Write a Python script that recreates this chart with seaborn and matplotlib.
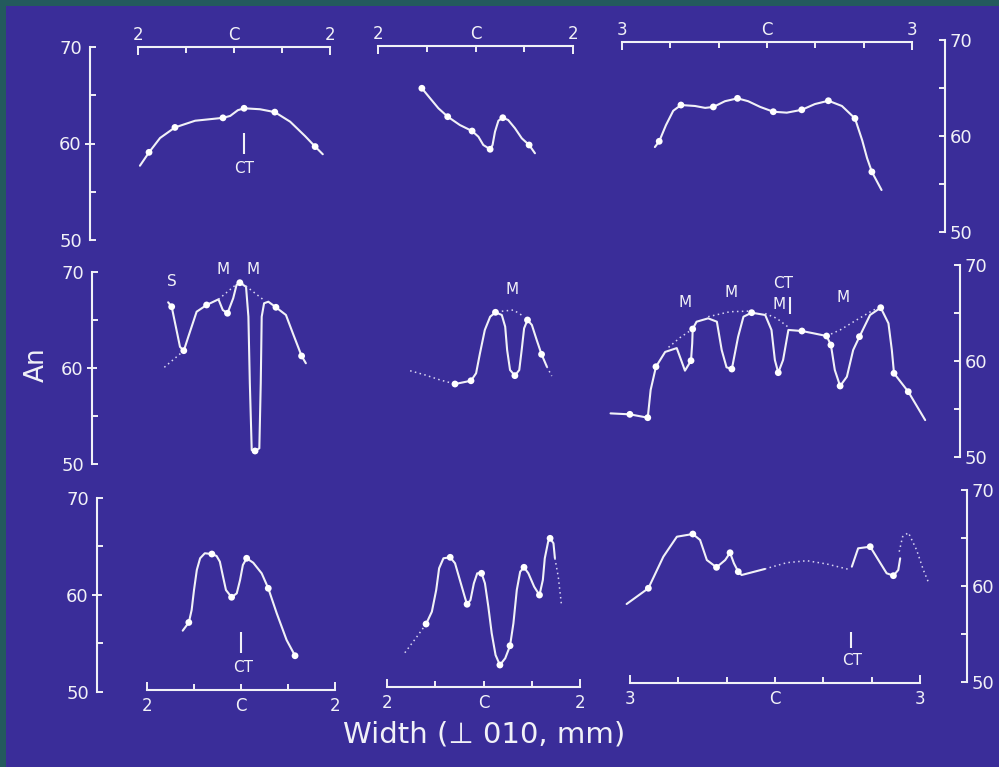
import matplotlib
matplotlib.use("Agg")
import matplotlib.pyplot as plt
from matplotlib.ticker import FixedLocator, FixedFormatter
import seaborn as sns

# An (%) against width (mm either side of the centre C)

# row 1
r1a_x = [-1.96, -1.77, -1.54, -1.23, -0.81, -0.23, -0.08, 0.08, 0.21, 0.54, 0.85, 1.17, 1.48, 1.69, 1.85]
r1a_y = [57.6, 59.0, 60.5, 61.6, 62.3, 62.6, 62.8, 63.4, 63.6, 63.5, 63.2, 62.2, 60.7, 59.6, 58.8]
r1a_dot_x = [-1.77, -1.23, -0.23, 0.21, 0.85, 1.69]
r1a_dot_y = [59.0, 61.6, 62.6, 63.6, 63.2, 59.6]
r1a_ct = [0.21, 58.8, 61.0]
r1a_marks = [("CT", 0.21, 57.3)]

r1b_x = [-1.10, -0.93, -0.76, -0.57, -0.32, -0.07, 0.06, 0.16, 0.30, 0.35, 0.40, 0.47, 0.56, 0.67,
         0.81, 0.95, 1.10, 1.22]
r1b_y = [65.55, 64.49, 63.44, 62.56, 61.68, 61.05, 60.45, 59.58, 59.13, 59.58, 60.98, 62.14, 62.45, 62.21,
         61.34, 60.28, 59.58, 58.71]
r1b_dot_x = [-1.10, -0.57, -0.07, 0.30, 0.56, 1.10]
r1b_dot_y = [65.55, 62.56, 61.05, 59.13, 62.45, 59.58]

r1c_x = [-2.32, -2.23, -2.09, -1.94, -1.78, -1.49, -1.28, -1.11, -0.87, -0.61, -0.39, -0.14,
         0.13, 0.41, 0.72, 0.99, 1.27, 1.55, 1.82, 1.97, 2.07, 2.17, 2.37]
r1c_y = [59.0, 59.6, 61.3, 62.8, 63.4, 63.3, 63.1, 63.2, 63.8, 64.1, 63.8, 63.2,
         62.7, 62.6, 62.9, 63.5, 63.85, 63.3, 62.0, 59.7, 57.85, 56.4, 54.5]
r1c_dot_x = [-2.23, -1.78, -1.11, -0.61, 0.13, 0.72, 1.27, 1.82, 2.17]
r1c_dot_y = [59.6, 63.4, 63.2, 64.1, 62.7, 62.9, 63.85, 62.0, 56.4]

# row 2
r2a_x = [-1.45, -1.375, -1.20, -1.12, -1.025, -0.85, -0.64, -0.39, -0.30, -0.20, -0.08, -0.01, 0.06, 0.19,
         0.24, 0.27, 0.31, 0.38, 0.47, 0.50, 0.52, 0.57, 0.66, 0.82, 1.03, 1.19, 1.36, 1.45]
r2a_y = [66.74, 66.28, 62.1, 61.7, 63.15, 65.76, 66.46, 67.05, 65.94, 65.6, 67.16, 68.54, 68.78, 68.36,
         65.24, 58.33, 51.35, 51.25, 51.53, 58.33, 65.24, 66.64, 66.8, 66.22, 65.42, 63.33, 61.15, 60.39]
r2a_dot_x = [-1.375, -1.12, -0.64, -0.20, 0.06, 0.38, 0.82, 1.36]
r2a_dot_y = [66.28, 61.7, 66.46, 65.6, 68.78, 51.25, 66.22, 61.15]
r2a_dash1_x, r2a_dash1_y = [-1.53, -1.12], [59.97, 61.7]
r2a_dash2_x, r2a_dash2_y = [-0.39, 0.02], [67.05, 68.75]
r2a_dash3_x, r2a_dash3_y = [0.105, 0.59], [68.75, 66.875]
r2a_marks = [("S", -1.375, 68.9), ("M", -0.29, 70.2), ("M", 0.34, 70.2)]

r2b_x = [-0.495, -0.165, -0.06, 0.02, 0.12, 0.23, 0.34, 0.47, 0.54, 0.58, 0.64, 0.74, 0.83, 0.88,
         0.93, 1.00, 1.09, 1.19, 1.29, 1.40]
r2b_y = [58.02, 58.36, 59.14, 61.22, 63.65, 65.03, 65.49, 65.21, 63.99, 61.56, 59.48, 58.89, 59.48, 61.56,
         63.82, 64.69, 64.17, 62.6, 61.11, 59.82]
r2b_dot_x = [-0.495, -0.165, 0.34, 0.74, 1.00, 1.29]
r2b_dot_y = [58.02, 58.36, 65.49, 58.89, 64.69, 61.11]
r2b_dash1_x, r2b_dash1_y = [-1.42, -1.11, -0.80, -0.495], [59.4, 58.96, 58.44, 58.02]
r2b_dash2_x, r2b_dash2_y = [0.47, 0.71, 0.91], [65.6, 65.73, 65.1]
r2b_dash3_x, r2b_dash3_y = [1.40, 1.50], [59.82, 58.85]
r2b_marks = [("M", 0.69, 67.9)]

r2c_x = [-3.32, -2.92, -2.55, -2.49, -2.38, -2.19, -1.95, -1.86, -1.78, -1.655, -1.63, -1.62, -1.54, -1.30,
         -1.12, -1.02, -0.92, -0.81, -0.68, -0.57, -0.40, -0.12, 0.01, 0.08, 0.15, 0.25, 0.36, 0.64,
         0.88, 1.15, 1.24, 1.32, 1.43, 1.57, 1.70, 1.83, 2.05, 2.27, 2.43, 2.50, 2.545, 2.84, 3.19]
r2c_y = [54.7, 54.6, 54.25, 57.14, 59.56, 61.1, 61.5, 60.26, 59.15, 60.19, 62.0, 63.49, 64.25, 64.6,
         64.25, 61.3, 59.5, 59.32, 62.69, 64.77, 65.19, 64.95, 63.39, 60.26, 58.94, 60.26, 63.39, 63.28,
         63.04, 62.76, 61.82, 59.22, 57.55, 58.52, 61.3, 62.69, 64.95, 65.71, 64.08, 61.3, 58.875, 56.96, 54.0]
r2c_dot_x = [-2.92, -2.55, -2.38, -1.655, -1.62, -0.81, -0.40, 0.15, 0.64, 1.15, 1.24, 1.43, 1.83, 2.27, 2.545, 2.84]
r2c_dot_y = [54.6, 54.25, 59.56, 60.19, 63.49, 59.32, 65.19, 58.94, 63.28, 62.76, 61.82, 57.55, 62.69, 65.71, 58.875, 56.96]
r2c_dash1_x, r2c_dash1_y = [-2.12, -1.88, -1.62], [61.58, 62.6, 63.49]
r2c_dash2_x, r2c_dash2_y = [-1.30, -0.85, -0.40], [64.77, 65.29, 65.36]
r2c_dash3_x, r2c_dash3_y = [-0.12, 0.12, 0.36], [65.1, 64.6, 63.67]
r2c_dash4_x, r2c_dash4_y = [1.15, 1.43, 1.77, 2.12, 2.27], [62.76, 63.39, 64.43, 65.47, 65.71]
r2c_ct = [0.39, 65.1, 66.85]
r2c_marks = [("M", -1.78, 66.23), ("M", -0.83, 67.27), ("CT", 0.25, 68.2), ("M", 0.17, 66.0), ("M", 1.50, 66.75)]

# row 3
r3a_x = [-1.24, -1.11, -1.05, -1.0, -0.94, -0.87, -0.77, -0.62, -0.52, -0.45, -0.39, -0.32, -0.20, -0.09,
         -0.02, 0.04, 0.12, 0.26, 0.44, 0.58, 0.76, 0.97, 1.15]
r3a_y = [56.15, 57.0, 58.29, 60.36, 62.44, 63.65, 64.17, 64.09, 63.89, 63.30, 61.92, 60.36, 59.61, 60.02,
         61.40, 62.95, 63.65, 63.19, 62.09, 60.54, 57.95, 55.18, 53.55]
r3a_dot_x = [-1.11, -0.62, -0.20, 0.12, 0.58, 1.15]
r3a_dot_y = [57.0, 64.09, 59.61, 63.65, 60.54, 53.55]
r3a_ct = [0.0, 53.8, 56.04]
r3a_marks = [("CT", 0.05, 52.35)]

r3b_x = [-1.19, -1.07, -0.98, -0.92, -0.83, -0.69, -0.59, -0.49, -0.38, -0.34, -0.27, -0.20, -0.13, -0.04,
         0.03, 0.10, 0.17, 0.25, 0.34, 0.45, 0.55, 0.62, 0.69, 0.76, 0.84, 0.93, 1.05, 1.16, 1.23, 1.27,
         1.34, 1.38, 1.45, 1.48]
r3b_y = [56.59, 57.88, 60.14, 62.40, 63.44, 63.54, 62.92, 61.18, 59.27, 58.65, 59.09, 60.83, 61.875, 61.875,
         60.83, 58.4, 55.63, 53.36, 52.32, 53.02, 54.33, 56.67, 60.14, 62.04, 62.5, 61.875, 60.48, 59.61, 61.18, 63.44,
         65.17, 65.52, 65.0, 63.44]
r3b_dot_x = [-1.19, -0.69, -0.34, -0.04, 0.34, 0.55, 0.84, 1.16, 1.38]
r3b_dot_y = [56.59, 63.54, 58.65, 61.875, 52.32, 54.33, 62.5, 59.61, 65.52]
r3b_dash1_x, r3b_dash1_y = [-1.63, -1.38, -1.19], [53.6, 55.27, 56.59]
r3b_dash2_x, r3b_dash2_y = [1.48, 1.55, 1.62], [63.44, 61.5, 58.4]

r3c_x = [-3.07, -2.62, -2.31, -2.03, -1.70, -1.55, -1.41, -1.21, -1.03, -0.93, -0.85, -0.76, -0.69, -0.21]
r3c_y = [58.26, 59.9, 63.19, 65.27, 65.55, 64.93, 62.84, 62.08, 62.84, 63.6, 62.5, 61.625, 61.28, 61.91]
r3c_2_x = [1.59, 1.72, 1.97, 2.14, 2.31, 2.45, 2.55, 2.59]
r3c_2_y = [62.15, 64.06, 64.23, 62.84, 61.46, 61.21, 61.8, 63.02]
r3c_dot_x = [-2.62, -1.70, -1.21, -0.93, -0.76, 1.97, 2.45]
r3c_dot_y = [59.9, 65.55, 62.08, 63.6, 61.625, 64.23, 61.21]
r3c_dash1_x, r3c_dash1_y = [-0.21, 0.24, 0.66, 1.07, 1.52], [61.91, 62.56, 62.77, 62.43, 61.875]
r3c_dash2_x, r3c_dash2_y = [2.57, 2.64, 2.76, 2.93, 3.07, 3.17], [63.71, 65.27, 65.69, 63.89, 61.8, 60.58]
r3c_ct = [1.57, 53.65, 55.375]
r3c_marks = [("CT", 1.59, 52.4)]

y_ticks = [50, 55, 60, 65, 70]
bar_labels_2 = ["2", "C", "2"]
bar_labels_3 = ["3", "C", "3"]

BLUE = "#3a2d99"
TEAL = "#235a5d"
INK = "#f1f1f7"
W, H = 999, 767

sns.set_style("white")
plt.rcParams["font.family"] = ["DejaVu Sans"]


def px_axes(fig, x0, x1, top, bot):
    """axes placed by pixel box of the slide"""
    ax = fig.add_axes([x0 / W, 1 - bot / H, (x1 - x0) / W, (bot - top) / H])
    ax.patch.set_alpha(0)
    ax.set_xticks([])
    ax.set_yticks([])
    for s in ax.spines.values():
        s.set_visible(False)
    ax.set_ylim(50, 70)
    return ax


def y_axis(fig, x, top, bot, side):
    if side == "left":
        ax = px_axes(fig, x, x + 2, top, bot)
        ax.yaxis.set_major_locator(FixedLocator([60]))
        ax.yaxis.set_major_formatter(FixedFormatter(["60"]))
        ax.yaxis.set_minor_locator(FixedLocator([50, 55, 65, 70]))
        ax.yaxis.set_minor_formatter(FixedFormatter(["50", "", "", "70"]))
        ax.tick_params(axis="y", which="major", left=True, direction="inout", length=7.5, width=1.4,
                       color=INK, labelcolor=INK, labelsize=13, pad=2.2)
        ax.tick_params(axis="y", which="minor", left=True, direction="in", length=4, width=1.4,
                       color=INK, labelcolor=INK, labelsize=13, pad=5.8)
    else:
        ax = px_axes(fig, x - 2, x, top, bot)
        ax.yaxis.tick_right()
        ax.set_yticks(y_ticks)
        ax.set_yticklabels(["50", "", "60", "", "70"])
        ax.tick_params(axis="y", right=True, direction="in", length=4, width=1.4,
                       color=INK, labelcolor=INK, labelsize=13, pad=3.5)
    ax.spines[side].set_visible(True)
    ax.spines[side].set_color(INK)
    ax.spines[side].set_linewidth(1.5)
    ax.set_ylim(50, 70)


def scale_bar(ax, half, where):
    ax.set_xlim(-half, half)
    ax.spines[where].set_visible(True)
    ax.spines[where].set_color(INK)
    ax.spines[where].set_linewidth(1.5)
    if where == "top":
        ax.xaxis.tick_top()
        pad = 2.5
    else:
        ax.xaxis.tick_bottom()
        pad = 5
    labels = bar_labels_2 if half == 2 else bar_labels_3
    ax.xaxis.set_major_locator(FixedLocator([-half, half]))
    ax.xaxis.set_major_formatter(FixedFormatter([labels[0], labels[2]]))
    inner = list(range(-half + 1, half))
    ax.xaxis.set_minor_locator(FixedLocator(inner))
    ax.xaxis.set_minor_formatter(FixedFormatter(["C" if v == 0 else "" for v in inner]))
    on = {where: True}
    ax.tick_params(axis="x", which="major", direction="in", length=6, width=1.4,
                   color=INK, labelcolor=INK, labelsize=12, pad=pad, **on)
    ax.tick_params(axis="x", which="minor", direction="in", length=4, width=1.4,
                   color=INK, labelcolor=INK, labelsize=12, pad=pad, **on)


def draw_panel(ax, solid, dashed, dots, marks=(), ct=None):
    for xs, ys in solid:
        sns.lineplot(x=xs, y=ys, sort=False, estimator=None, ax=ax, color=INK, lw=1.5,
                     solid_joinstyle="round", solid_capstyle="round")
    for xs, ys in dashed:
        sns.lineplot(x=xs, y=ys, sort=False, estimator=None, ax=ax, color="#d9d6f2",
                     lw=1.1, linestyle=(0, (1, 2.2)))
    sns.scatterplot(x=dots[0], y=dots[1], ax=ax, s=24, color="#ffffff", edgecolor="none",
                    linewidth=0, zorder=4)
    if ct is not None:
        ax.vlines(ct[0], ct[1], ct[2], color=INK, lw=1.5)
    for txt, tx, ty in marks:
        ax.text(tx, ty, txt, ha="center", va="center", fontsize=11, color=INK)
    for art in ax.lines + ax.collections:
        art.set_clip_on(False)
    ax.set_ylim(50, 70)
    ax.set_xlabel("")
    ax.set_ylabel("")


fig = plt.figure(figsize=(W / 100, H / 100), dpi=100, facecolor=TEAL)
bg = px_axes(fig, 6, W, 6, H)
bg.patch.set_alpha(1)
bg.set_facecolor(BLUE)

# row geometry in slide pixels: left axis, right axis, three panel boxes
rows = [
    dict(left=(90, 47, 240), right=(945, 40, 232), bar="top",
         boxes=[(138, 330, 47, 238.5, 2), (378, 573, 46, 236, 2), (622, 912, 42, 233, 3)]),
    dict(left=(92, 272, 464), right=(960, 265, 457), bar=None,
         boxes=[(142, 332, 271, 463, 2), (382, 576, 269, 461, 2), (626, 916, 266.5, 458.5, 3)]),
    dict(left=(97, 498, 692), right=(967, 490, 682), bar="bottom",
         boxes=[(147, 335, 497, 690, 2), (387, 580, 495.3, 687.3, 2), (630, 920, 491.3, 683.3, 3)]),
]

contents = [
    [dict(solid=[(r1a_x, r1a_y)], dashed=[], dots=(r1a_dot_x, r1a_dot_y), marks=r1a_marks, ct=r1a_ct),
     dict(solid=[(r1b_x, r1b_y)], dashed=[], dots=(r1b_dot_x, r1b_dot_y)),
     dict(solid=[(r1c_x, r1c_y)], dashed=[], dots=(r1c_dot_x, r1c_dot_y))],
    [dict(solid=[(r2a_x, r2a_y)],
          dashed=[(r2a_dash1_x, r2a_dash1_y), (r2a_dash2_x, r2a_dash2_y), (r2a_dash3_x, r2a_dash3_y)],
          dots=(r2a_dot_x, r2a_dot_y), marks=r2a_marks),
     dict(solid=[(r2b_x, r2b_y)],
          dashed=[(r2b_dash1_x, r2b_dash1_y), (r2b_dash2_x, r2b_dash2_y), (r2b_dash3_x, r2b_dash3_y)],
          dots=(r2b_dot_x, r2b_dot_y), marks=r2b_marks),
     dict(solid=[(r2c_x, r2c_y)],
          dashed=[(r2c_dash1_x, r2c_dash1_y), (r2c_dash2_x, r2c_dash2_y),
                  (r2c_dash3_x, r2c_dash3_y), (r2c_dash4_x, r2c_dash4_y)],
          dots=(r2c_dot_x, r2c_dot_y), marks=r2c_marks, ct=r2c_ct)],
    [dict(solid=[(r3a_x, r3a_y)], dashed=[], dots=(r3a_dot_x, r3a_dot_y), marks=r3a_marks, ct=r3a_ct),
     dict(solid=[(r3b_x, r3b_y)], dashed=[(r3b_dash1_x, r3b_dash1_y), (r3b_dash2_x, r3b_dash2_y)],
          dots=(r3b_dot_x, r3b_dot_y)),
     dict(solid=[(r3c_x, r3c_y), (r3c_2_x, r3c_2_y)],
          dashed=[(r3c_dash1_x, r3c_dash1_y), (r3c_dash2_x, r3c_dash2_y)],
          dots=(r3c_dot_x, r3c_dot_y), marks=r3c_marks, ct=r3c_ct)],
]

for row, row_data in zip(rows, contents):
    y_axis(fig, *row["left"], side="left")
    y_axis(fig, *row["right"], side="right")
    for (x0, x1, top, bot, half), pdata in zip(row["boxes"], row_data):
        ax = px_axes(fig, x0, x1, top, bot)
        draw_panel(ax, **pdata)
        ax.set_xlim(-half, half)
        if row["bar"]:
            scale_bar(ax, half, row["bar"])

fig.text(37 / W, 1 - 365 / H, "An", rotation=90, ha="center", va="center",
         fontsize=19, color=INK)
fig.text(484 / W, 1 - 735 / H, "Width (\u22a5 010, mm)", ha="center", va="center",
         fontsize=21, color=INK)

fig.savefig("out.png", dpi=100, facecolor=fig.get_facecolor())
